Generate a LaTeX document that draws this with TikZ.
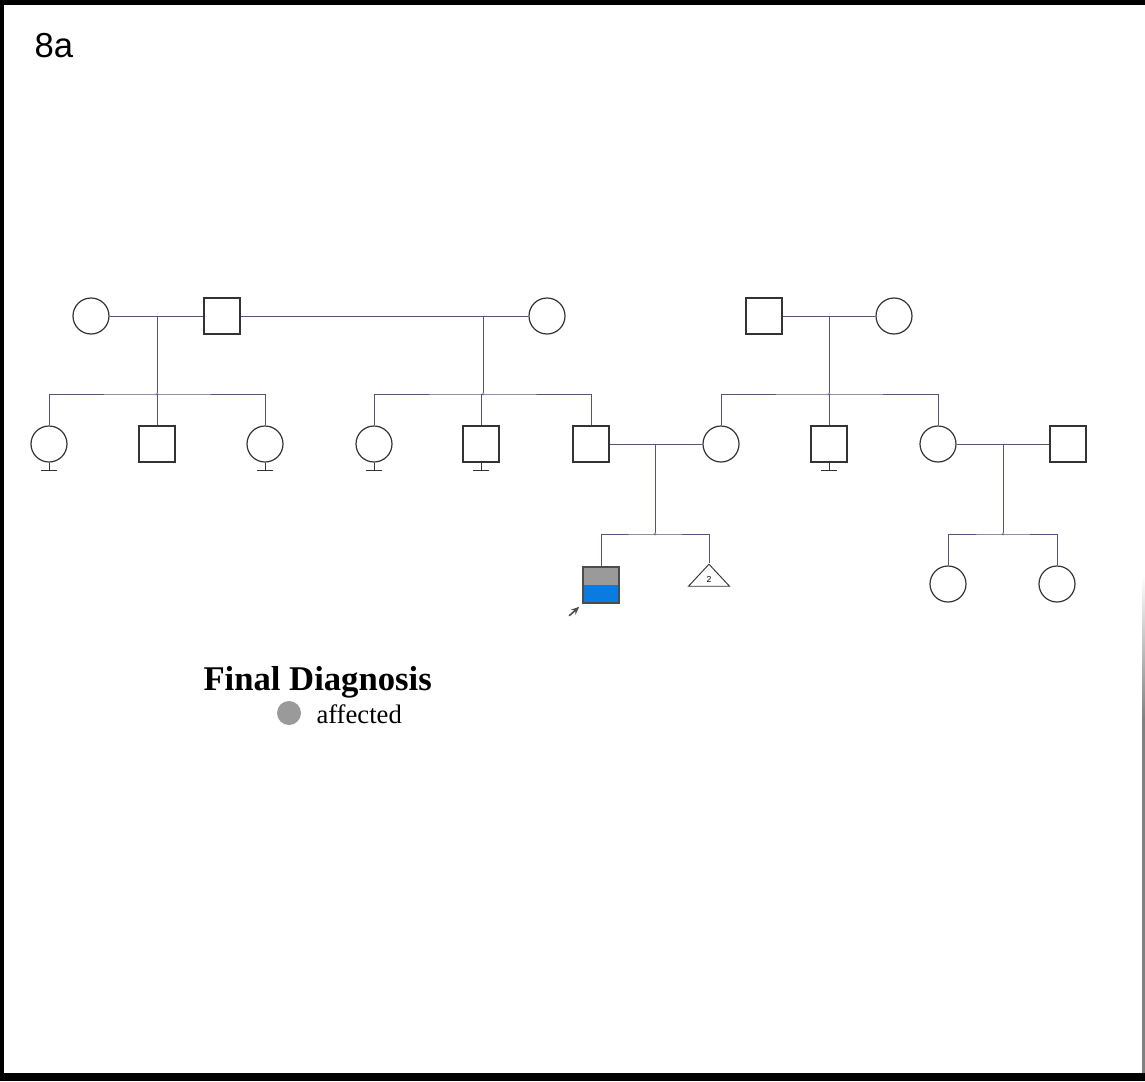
\documentclass[tikz,border=0pt]{standalone}
\usepackage{fontspec}
\setmainfont{Liberation Serif}
\newfontfamily\labelfont{Liberation Sans}
\usetikzlibrary{shapes.geometric,arrows.meta}
\definecolor{lineblue}{HTML}{55557A}
\definecolor{affgray}{HTML}{9A9A9A}
\definecolor{probblue}{HTML}{0A7BE0}

\begin{document}
\begin{tikzpicture}[x=0.75pt,y=-0.75pt,line width=0.75pt]
        \tikzstyle{person}=[draw=black!80,line width=0.9pt,minimum size=27pt,inner sep=0pt]
        \tikzstyle{female}=[person,circle]
        \tikzstyle{male}=[person,rectangle]
        \tikzstyle{multiple}=[draw=black!80,line width=0.7pt,isosceles triangle,isosceles triangle stretches,
                shape border rotate=90,minimum width=30.75pt,minimum height=16.5pt,inner sep=0pt]
        \tikzstyle{bond}=[draw=lineblue]
        \tikzstyle{knot}=[fill=gray!70]

        \useasboundingbox (0,0) rectangle (1145,1081);
        % Frame
        \fill[black] (0,0) rectangle (1145,5);
        \fill[black] (0,0) rectangle (4,1081);
        \fill[black] (0,1073) rectangle (1145,1081);
        \shade[top color=white,bottom color=gray] (1142,575) rectangle (1145,720);
        \fill[gray] (1142,720) rectangle (1145,1073);
        \node[font=\labelfont\fontsize{26pt}{30pt}\selectfont,anchor=base west,inner sep=0pt] (tag) at (34,58) {8a};

        % Draw the first generation
        \node[female] (I-1) at (91,316) {};
        \node[male]   (I-2) at (222,316) {};
        \node[female] (I-3) at (547,316) {};
        \node[male]   (I-4) at (764,316) {};
        \node[female] (I-5) at (894,316) {};

        % Draw the second generation
        \foreach \name / \x in {1/49,3/265,4/374,7/721,9/938}
            \node[female] (II-\name) at (\x,444) {};
        \foreach \name / \x in {2/157,5/481,6/591,8/829,10/1068}
            \node[male] (II-\name) at (\x,444) {};

        % Draw the third generation
        \node[male,draw=black!70,line width=1.2pt,path picture={
                \fill[affgray] (path picture bounding box.north west) rectangle (path picture bounding box.east);
                \fill[probblue] (path picture bounding box.west) rectangle (path picture bounding box.south east);}]
            (III-1) at (601,585) {};
        \node[multiple,anchor=apex] (III-2) at (709,563) {};
        \node[font=\labelfont\fontsize{6.5pt}{8pt}\selectfont,inner sep=0pt] (n2) at (709,579) {2};
        \node[female] (III-3) at (948,584) {};
        \node[female] (III-4) at (1057,584) {};

        % Marriages
        \path[bond] (I-1) edge (I-2) (I-2) edge (I-3) (I-4) edge (I-5);
        \path[bond] (II-6) edge (II-7) (II-9) edge (II-10);

        % Descent lines and sibships
        \foreach \m / \x / \y / \yy in {m1/157/316/394,m2/483/316/394,m3/829/316/394,m4/655/444/534,m5/1003/444/534} {
            \coordinate (\m) at (\x,\y);
            \coordinate (s-\m) at (\x,\yy);
            \draw[bond] (\m) -- (s-\m);
            \fill[knot] (s-\m) circle (1.6);
        }
        \draw[bond] (II-1) |- (s-m1) -| (II-3);
        \draw[bond] (s-m1) -- (II-2);
        \draw[bond] (II-4) |- (s-m2) -| (II-6);
        \draw[bond] (II-5 |- s-m2) -- (II-5);
        \draw[bond] (II-7) |- (s-m3) -| (II-9);
        \draw[bond] (s-m3) -- (II-8);
        \draw[bond] (III-1) |- (s-m4) -| (III-2.apex);
        \draw[bond] (III-3) |- (s-m5) -| (III-4);

        % No children
        \foreach \n in {II-1,II-3,II-4,II-5,II-8}
            \draw[black!80] (\n.south) -- ++(0,8) ++(-8,0) -- ++(16,0);

        % Proband arrow
        \draw[black!70,line width=1.2pt,-{Stealth[length=6pt,width=5pt]}] ([shift={(-13,12)}]III-1.south west) -- ([shift={(-3,3)}]III-1.south west);

        % Legend
        \node[anchor=base west,inner sep=0pt,font=\bfseries\fontsize{26pt}{30pt}\selectfont] (legend) at (203,690) {Final Diagnosis};
        \node[circle,fill=affgray,minimum size=18pt,inner sep=0pt] (key) at (289,713) {};
        \node[anchor=base west,inner sep=0pt,font=\fontsize{20pt}{24pt}\selectfont] (keytext) at (316,723) {affected};
\end{tikzpicture}
\end{document}
